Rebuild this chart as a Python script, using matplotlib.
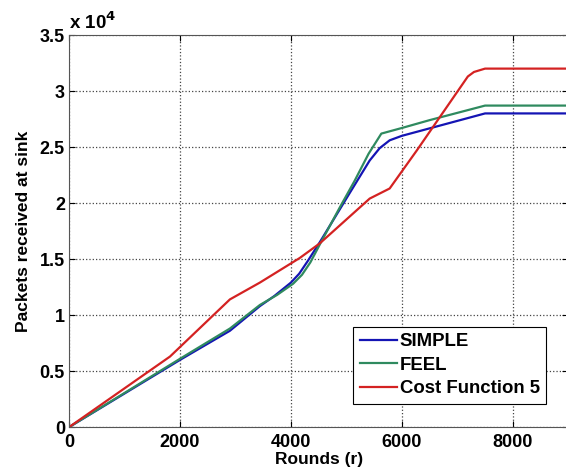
import matplotlib
matplotlib.use('Agg')
from matplotlib import pyplot as plt
from matplotlib.ticker import FuncFormatter

# values (rounds, packets)
simple_x = [0, 1000, 2000, 2900, 3440, 3700, 4000, 4150, 4300, 4520, 5060, 5420, 5600, 5780, 6000, 7500, 9000]
simple_y = [0, 3000, 6000, 8600, 10800, 11700, 12900, 13700, 14800, 16500, 20900, 23800, 24900, 25600, 26000, 28000, 28000]

feel_x = [0, 1000, 2000, 2900, 3440, 3750, 4040, 4200, 4350, 4520, 4880, 5150, 5400, 5630, 6000, 6500, 7500, 9000]
feel_y = [0, 3050, 6100, 8800, 10900, 11800, 12800, 13600, 14700, 16300, 19600, 22000, 24400, 26200, 26700, 27400, 28700, 28700]

cost_x = [0, 1820, 2900, 3440, 4160, 4520, 5420, 5780, 6270, 7190, 7300, 7500, 9000]
cost_y = [0, 6300, 11400, 12900, 15100, 16400, 20400, 21300, 24700, 31300, 31700, 32000, 32000]

labels = ['SIMPLE', 'FEEL', 'Cost Function 5']
colors = ['#1414b4', '#2f8a5f', '#d42222']

x_ticks = [0, 2000, 4000, 6000, 8000]
y_ticks = [0, 5000, 10000, 15000, 20000, 25000, 30000, 35000]

plt.rcParams['font.family'] = ['Liberation Sans', 'DejaVu Sans']
plt.rcParams['font.weight'] = 'bold'
plt.rcParams['font.size'] = 13

fig = plt.figure(figsize=(5.66, 4.73), dpi=100)
ax = fig.add_axes([0.122, 0.097, 0.882, 0.829])

series = [(simple_x, simple_y), (feel_x, feel_y), (cost_x, cost_y)]
for (xs, ys), lab, col in zip(series, labels, colors):
    ax.plot(xs, ys, color=col, linewidth=1.6, label=lab)

ax.set_xlim(0, 9000)
ax.set_ylim(0, 35000)
ax.set_xticks(x_ticks)
ax.set_yticks(y_ticks)
ax.yaxis.set_major_formatter(FuncFormatter(lambda v, p: '%g' % (v / 1e4)))
ax.tick_params(direction='in', length=4, top=True, right=True, labelsize=13)
ax.tick_params(axis='x', pad=5)
ax.tick_params(axis='y', pad=3)
for s in ax.spines.values():
    s.set_color('#555555')
ax.grid(True, linestyle=':', color='#444444', linewidth=0.9)

ax.text(0.0, 1.006, r'x 10$^{4}$', transform=ax.transAxes, fontsize=13.5,
        fontweight='bold', va='bottom', ha='left')

ax.set_xlabel('Rounds (r)', fontsize=12.5, fontweight='bold', labelpad=1)
ax.set_ylabel('Packets received at sink', fontsize=12.5, fontweight='bold', labelpad=6)

leg = ax.legend(loc='lower right', bbox_to_anchor=(0.956, 0.059), fancybox=False,
                framealpha=1, edgecolor='black', borderpad=0.35, labelspacing=0.35,
                handlelength=2.0, handletextpad=0.15, borderaxespad=0,
                prop={'weight': 'bold', 'size': 13.4})
leg.get_frame().set_linewidth(0.8)

fig.savefig('out.png', dpi=100)
